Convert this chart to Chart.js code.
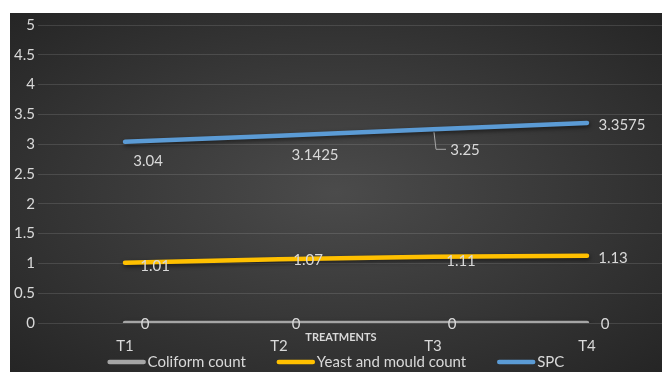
<!DOCTYPE html>
<html>
<head>
<meta charset="utf-8">
<script src="https://cdn.jsdelivr.net/npm/chart.js@4/dist/chart.umd.min.js"></script>
<style>
  html, body { margin: 0; padding: 0; background: #ffffff; }
  #frame {
    position: absolute; left: 10px; top: 13px; width: 652px; height: 359px;
    background: radial-gradient(ellipse farthest-corner at 50% 50%, #4b4b4b 0%, #3a3a3a 45%, #252525 100%);
  }
  #frame canvas { display: block; }
</style>
</head>
<body>
<div id="frame"><canvas id="c"></canvas></div>
<script>
// Microbial counts per treatment
const categories = ['T1', 'T2', 'T3', 'T4'];
const coliformCount = [0, 0, 0, 0];
const yeastMouldCount = [1.01, 1.07, 1.11, 1.13];
const spcCount = [3.04, 3.1425, 3.25, 3.3575];
const seriesNames = ['Coliform count', 'Yeast and mould count', 'SPC'];
const axisTitle = 'TREATMENTS';

const FONT = 'Lato, "Liberation Sans", sans-serif';
const TEXT = '#d9d9d9';
const colors = ['#a5a5a5', '#ffc000', '#5b9bd5'];
const series = [coliformCount, yeastMouldCount, spcCount];

// Where each value label sits relative to its point (px)
const labelOffsets = [
  [[20, 1], [17, 1], [19, 1], [18, 1]],
  [[30, 3], [29, 1], [28, 4], [26, 3]],
  [[23, 19], [36, 19], [32, 21], [35, 2]]
];

const toPoints = arr => arr.map((v, i) => ({ x: i, y: v }));
const fmt = v => String(+Number(v).toFixed(2));

const lineShadow = {
  id: 'lineShadow',
  beforeDatasetsDraw(chart) {
    const ctx = chart.ctx;
    ctx.save();
    ctx.shadowColor = 'rgba(0,0,0,0.55)';
    ctx.shadowBlur = 4;
    ctx.shadowOffsetX = 1;
    ctx.shadowOffsetY = 2;
  },
  afterDatasetsDraw(chart) {
    chart.ctx.restore();
  }
};

const valueLabels = {
  id: 'valueLabels',
  afterDatasetsDraw(chart) {
    const ctx = chart.ctx;
    ctx.save();
    ctx.font = '15px ' + FONT;
    ctx.fillStyle = TEXT;
    ctx.textAlign = 'center';
    ctx.textBaseline = 'middle';
    chart.data.datasets.forEach((ds, di) => {
      const meta = chart.getDatasetMeta(di);
      meta.data.forEach((pt, i) => {
        const [dx, dy] = labelOffsets[di][i];
        ctx.fillText(String(ds.data[i].y), pt.x + dx, pt.y + dy);
        // leader line for the SPC label at T3
        if (di === 2 && i === 2) {
          ctx.strokeStyle = '#a6a6a6';
          ctx.lineWidth = 1;
          ctx.beginPath();
          ctx.moveTo(pt.x + 1, pt.y + 3);
          ctx.lineTo(pt.x + 3, pt.y + dy - 1);
          ctx.lineTo(pt.x + 13, pt.y + dy - 1);
          ctx.stroke();
        }
      });
    });
    // axis title
    const xs = chart.scales.x;
    ctx.font = 'bold 11px ' + FONT;
    ctx.fillText(axisTitle, xs.getPixelForValue(1.5) - 15, chart.chartArea.bottom + 14);
    ctx.restore();
  }
};

// Legend row: short thick line swatch followed by the series name
const lineLegend = {
  id: 'lineLegend',
  afterDraw(chart) {
    const ctx = chart.ctx;
    ctx.save();
    ctx.font = '15px ' + FONT;
    ctx.textBaseline = 'middle';
    ctx.textAlign = 'left';
    const sw = 38, gap = 2, itemGap = 31;
    const widths = seriesNames.map(n => sw + gap + ctx.measureText(n).width);
    const total = widths.reduce((a, b) => a + b, 0) + itemGap * (widths.length - 1);
    let x = (chart.width - total) / 2;
    const y = chart.height - 10;
    seriesNames.forEach((name, i) => {
      ctx.strokeStyle = colors[i];
      ctx.lineWidth = 4.5;
      ctx.lineCap = 'round';
      ctx.beginPath();
      ctx.moveTo(x + 2, y);
      ctx.lineTo(x + sw - 2, y);
      ctx.stroke();
      ctx.fillStyle = TEXT;
      ctx.fillText(name, x + sw + gap, y);
      x += widths[i] + itemGap;
    });
    ctx.restore();
  }
};

new Chart(document.getElementById('c'), {
  type: 'line',
  data: {
    datasets: series.map((s, i) => ({
      label: seriesNames[i],
      data: toPoints(s),
      borderColor: colors[i],
      backgroundColor: colors[i],
      borderWidth: 4.5,
      borderCapStyle: 'round',
      pointRadius: 0,
      pointHoverRadius: 0,
      tension: 0
    }))
  },
  options: {
    responsive: true,
    maintainAspectRatio: false,
    animation: false,
    events: [],
    layout: { padding: { top: 9, right: 0, left: 0, bottom: 0 } },
    scales: {
      x: {
        type: 'linear',
        min: -0.565,
        max: 3.487,
        afterBuildTicks: scale => { scale.ticks = categories.map((_, i) => ({ value: i })); },
        afterFit: scale => { scale.height = 49; },
        ticks: {
          callback: v => categories[v],
          color: TEXT,
          font: { family: FONT, size: 15 },
          padding: 14,
          autoSkip: false,
          maxRotation: 0
        },
        grid: { display: false, drawTicks: false },
        border: { display: false }
      },
      y: {
        min: 0,
        max: 5,
        afterFit: scale => { scale.width = 28; },
        ticks: {
          stepSize: 0.5,
          callback: v => fmt(v),
          color: TEXT,
          font: { family: FONT, size: 15 },
          padding: 3
        },
        grid: { color: 'rgba(255,255,255,0.12)', lineWidth: 1, drawTicks: false },
        border: { display: false }
      }
    },
    plugins: {
      legend: { display: false },
      tooltip: { enabled: false }
    }
  },
  plugins: [lineShadow, valueLabels, lineLegend]
});
</script>
</body>
</html>
